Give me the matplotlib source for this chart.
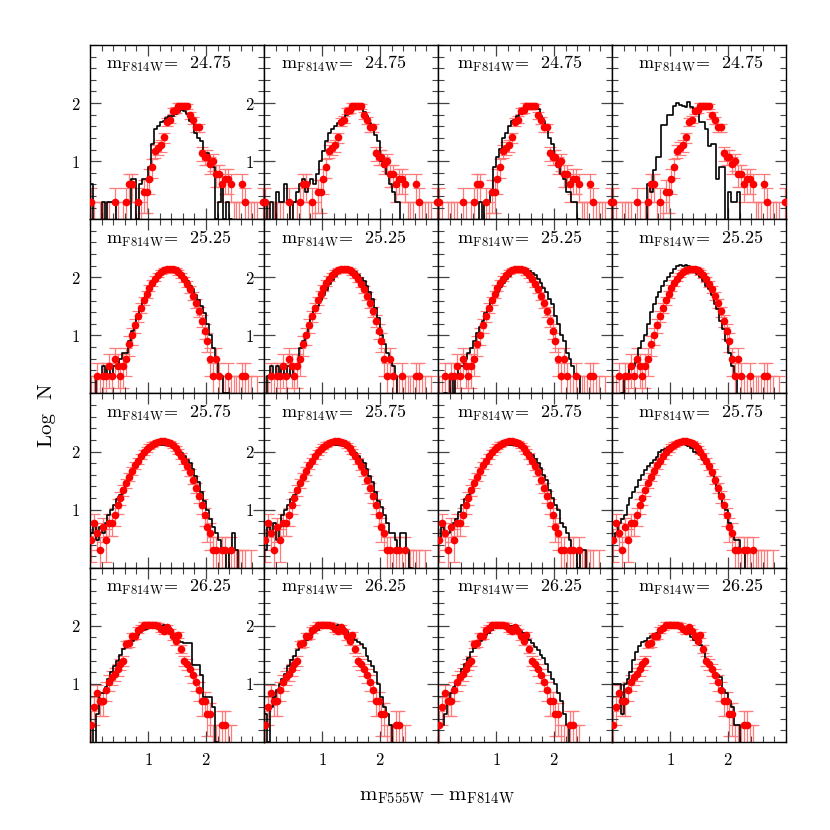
import numpy as np
import matplotlib
matplotlib.use('Agg')
import matplotlib.pyplot as plt
from matplotlib.ticker import FixedLocator, MultipleLocator

plt.rcParams['font.family'] = ['cmr10', 'DejaVu Serif']
plt.rcParams['mathtext.fontset'] = 'cm'
plt.rcParams['axes.formatter.use_mathtext'] = True

# colour bin centres (m_F555W - m_F814W), bin width 0.05
color_bins = [round(0.025 + 0.05 * k, 3) for k in range(60)]

mag_labels = ['24.75', '25.25', '25.75', '26.25']

# observed counts per colour bin (red points), one list per magnitude row
obs_2475 = [2,1,0,1,1,1,1,0,2,1, 0,1,2,4,4,1,2,1,3,3, 5,8,15,17,19,26,48,52,74,76,
            90,90,90,88,62,51,38,38,14,12, 12,9,10,6,6,4,5,5,4,1, 1,1,4,2,1,1,1,1,0,2]
obs_2525 = [1,1,2,1,2,2,3,2,4,3, 2,3,4,7,10,15,22,30,40,52, 66,80,95,110,123,132,138,141,139,132,
            122,109,93,77,62,48,36,26,18,12, 8,4,2,4,2,1,1,2,1,1, 1,1,2,2,1,1,0,1,0,0]
obs_2575 = [3,6,4,2,5,3,6,6,8,12, 16,22,29,37,47,58,70,83,97,110, 122,132,141,148,151,150,147,139,128,115,
            100,85,70,56,44,33,24,17,12,8, 5,4,2,2,1,2,2,1,2,1, 1,1,1,1,0,1,0,0,0,0]
obs_2625 = [2,4,7,5,5,8,11,13,15,18, 22,25,48,51,66,68,85,93,105,105, 105,105,105,100,87,81,95,80,66,55,
            69,40,25,22,18,14,11,8,5,5, 3,3,1,1,1,2,2,1,1,0, 0,0,0,0,0,0,0,0,0,0]

# model counts (black histograms), one list per panel
mod_2475_1 = [4,0,0,0,2,0,2,2,2,0, 0,0,0,0,5,5,1,4,5,5, 8,20,36,40,48,50,55,60,60,65,
              70,75,72,65,50,47,30,25,22,12, 14,8,8,1,2,4,1,2,1,0, 0,0,0,0,0,0,0,0,0,0]
mod_2475_2 = [2,0,2,0,3,2,2,4,2,0, 2,3,4,5,3,4,5,4,6,10, 15,22,30,36,40,45,50,55,62,70,
              75,88,90,80,70,60,45,38,28,22, 10,8,6,4,3,2,2,0,0,0, 0,0,0,0,0,0,0,0,0,0]
mod_2475_3 = [0,0,0,0,0,0,0,0,0,0, 0,0,0,0,2,0,2,2,3,8, 12,16,25,30,40,50,52,60,70,75,
              85,88,90,85,78,60,50,38,25,20, 12,8,6,5,3,3,2,2,1,0, 0,0,0,0,0,0,0,0,0,0]
mod_2475_4 = [0,0,0,0,0,0,0,0,0,0, 0,0,4,3,7,12,12,42,42,62, 62,90,100,92,88,85,105,87,75,70,
              48,48,36,18,20,20,5,8,8,0, 3,2,2,3,0,0,0,0,0,0, 0,0,0,0,0,0,0,0,0,0]
mod_2525_1 = [0,0,2,2,3,2,3,2,3,3, 4,5,5,8,12,16,22,28,38,48, 60,72,85,100,112,120,128,130,132,130,
              125,112,100,85,72,62,50,40,32,24, 16,10,6,4,2,2,1,1,0,0, 0,0,0,0,0,0,0,0,0,0]
mod_2525_2 = [0,2,3,2,3,2,3,2,3,2, 3,3,6,8,11,16,20,26,32,40, 50,60,76,90,105,120,128,135,140,141,
              135,125,110,98,85,70,56,42,30,20, 10,7,5,4,3,2,0,0,0,0, 0,0,0,0,0,0,0,0,0,0]
mod_2525_3 = [0,0,1,0,2,0,2,3,3,4, 5,6,8,11,14,18,24,30,38,46, 56,68,80,94,106,118,128,134,140,141,
              138,130,120,108,95,79,66,56,42,35, 22,16,10,8,5,4,3,2,2,0, 0,0,0,0,0,0,0,0,0,0]
mod_2525_4 = [0,0,0,1,2,2,3,3,4,6, 8,10,16,25,35,45,56,70,85,100, 120,140,158,160,158,160,158,140,125,112,
              100,85,70,63,50,35,28,18,13,8, 5,3,2,0,0,0,0,0,0,0, 0,0,0,0,0,0,0,0,0,0]
mod_2575_1 = [4,6,3,5,4,6,8,10,12,15, 18,24,30,38,45,55,68,80,90,100, 110,120,126,130,132,130,128,126,120,110,
              100,95,85,72,63,50,38,30,20,14, 10,7,5,4,3,2,2,0,2,4, 2,0,0,0,0,0,0,0,0,0]
mod_2575_2 = [2,5,4,6,3,5,8,10,12,15, 18,24,30,38,45,55,68,80,90,100, 110,120,126,130,132,130,128,126,120,110,
              100,95,85,72,63,50,38,30,20,14, 11,8,6,4,4,3,2,4,4,2, 1,0,0,0,0,0,0,0,0,0]
mod_2575_3 = [3,5,4,4,5,6,7,9,12,15, 18,24,30,36,45,55,66,78,90,100, 110,118,126,130,132,132,130,126,120,112,
              102,95,86,74,64,52,40,32,22,16, 12,10,6,5,4,3,2,2,1,2, 2,0,0,0,0,0,0,0,0,0]
mod_2575_4 = [3,4,6,7,8,12,16,20,25,32, 40,48,56,63,72,80,100,105,112,120, 126,132,138,141,138,132,126,115,100,95,
              89,72,60,50,40,32,25,18,13,10, 6,4,3,3,2,2,0,0,0,0, 0,0,0,0,0,0,0,0,0,0]
mod_2625_1 = [2,0,3,7,7,9,12,16,20,25, 32,40,45,47,55,65,70,78,85,88, 92,95,95,98,100,105,100,90,66,60,
              55,52,51,51,51,21,21,21,14,6, 6,6,4,1,0,0,0,0,0,0, 0,0,0,0,0,0,0,0,0,0]
mod_2625_2 = [3,1,4,6,8,10,12,15,20,26, 30,38,44,50,56,64,72,78,84,90, 94,96,98,100,100,102,98,92,80,70,
              62,56,52,48,42,30,25,20,16,10, 6,4,3,2,0,0,0,0,0,0, 0,0,0,0,0,0,0,0,0,0]
mod_2625_3 = [2,2,3,5,7,9,11,14,18,22, 28,35,42,48,55,62,70,76,84,90, 94,98,100,102,100,98,95,90,82,74,
              66,58,50,44,38,32,28,22,16,12, 10,7,5,3,2,0,0,0,0,0, 0,0,0,0,0,0,0,0,0,0]
mod_2625_4 = [10,10,10,3,10,12,16,26,35,45, 52,54,62,68,72,74,85,91,100,105, 110,100,100,95,85,80,74,65,58,50,
              46,36,25,22,19,15,14,13,8,7, 5,4,2,2,0,0,0,0,0,0, 0,0,0,0,0,0,0,0,0,0]

obs_rows = [obs_2475, obs_2525, obs_2575, obs_2625]
model_rows = [[mod_2475_1, mod_2475_2, mod_2475_3, mod_2475_4],
              [mod_2525_1, mod_2525_2, mod_2525_3, mod_2525_4],
              [mod_2575_1, mod_2575_2, mod_2575_3, mod_2575_4],
              [mod_2625_1, mod_2625_2, mod_2625_3, mod_2625_4]]

label_x = [0.09, 0.10, 0.11, 0.15]

fig, axes = plt.subplots(4, 4, figsize=(8.3, 8.3), dpi=100)
fig.subplots_adjust(left=90/830, right=786/830, bottom=1-742/830, top=1-45/830,
                    wspace=0, hspace=0)

x = np.array(color_bins)
for r in range(4):
    obs = np.array(obs_rows[r], dtype=float)
    for c in range(4):
        ax = axes[r, c]
        mod = np.array(model_rows[r][c], dtype=float)
        ymod = np.where(mod > 0, np.log10(np.maximum(mod, 1e-9)), -1.0)

        v = obs > 0
        n = obs[v]
        yo = np.log10(n)
        up = np.log10(n + np.sqrt(n)) - yo
        lowv = n - np.sqrt(n)
        lo = yo - np.where(lowv > 0, np.log10(np.maximum(lowv, 1e-9)), -1.0)
        ax.errorbar(x[v], yo, yerr=[lo, up], fmt='none', ecolor='#ff7a7a',
                    elinewidth=0.9, capsize=4, capthick=0.9, zorder=1)
        ax.step(x, ymod, where='mid', color='black', lw=1.2, zorder=2)
        m = obs > 1
        ax.plot(x[m], np.log10(obs[m]), 'o', color='red', ms=5.5, mec='none', zorder=3)

        ax.set_xlim(0, 3)
        ax.set_ylim(0, 3)
        ax.xaxis.set_major_locator(FixedLocator([1, 2]))
        ax.yaxis.set_major_locator(FixedLocator([1, 2]))
        ax.xaxis.set_minor_locator(MultipleLocator(0.2))
        ax.yaxis.set_minor_locator(MultipleLocator(0.2))
        ax.tick_params(which='both', direction='in', top=True, right=True,
                       labelsize=12, pad=7, color='#444444')
        ax.tick_params(which='major', length=8, width=0.9)
        ax.tick_params(which='minor', length=4, width=0.8)
        ax.tick_params(labelbottom=(r == 3), labelleft=(c in (0, 1)))
        for s in ax.spines.values():
            s.set_linewidth(1.0)
        ax.text(label_x[c], 0.86, r'$\mathrm{m}_{\mathrm{F814W}}$=  ' + mag_labels[r],
                transform=ax.transAxes, fontsize=13, ha='left', va='baseline')

fig.text(0.057, 0.5, 'Log  N', rotation=90, fontsize=15, ha='center', va='center')
fig.text(0.527, 0.04, r'$\mathrm{m}_{\mathrm{F555W}}-\mathrm{m}_{\mathrm{F814W}}$',
         fontsize=15, ha='center', va='center')

fig.savefig('out.png', dpi=100)
